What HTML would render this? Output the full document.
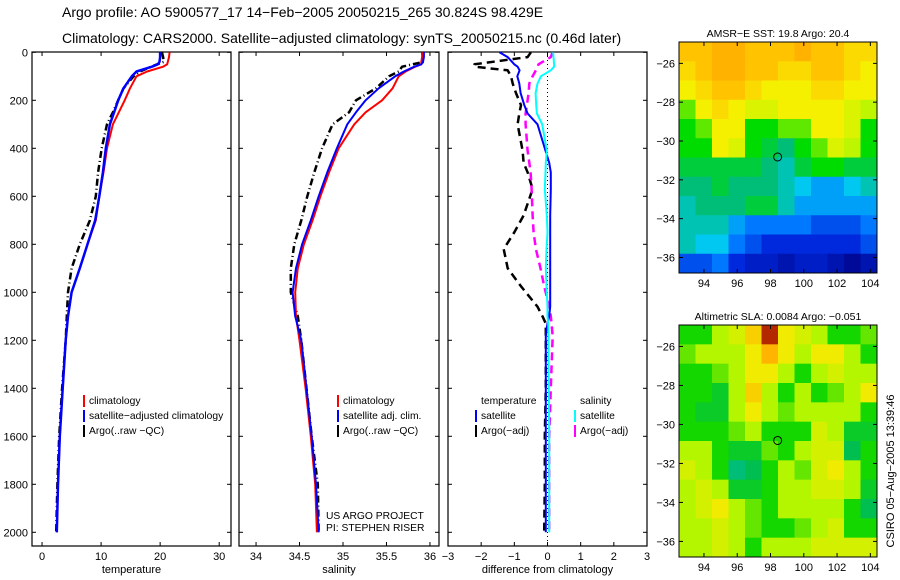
<!DOCTYPE html>
<html><head><meta charset="utf-8"><style>
body{margin:0;background:#fff;}
svg{display:block;font-family:"Liberation Sans",sans-serif;}
</style></head><body>
<svg id="c" width="900" height="580" viewBox="0 0 900 580" xmlns="http://www.w3.org/2000/svg">
<text x="62" y="17" font-size="14">Argo profile: AO 5900577_17 14−Feb−2005 20050215_265 30.824S 98.429E</text>
<text x="62" y="43" font-size="14">Climatology: CARS2000. Satellite−adjusted climatology: synTS_20050215.nc (0.46d later)</text>
</svg>
<script>
// ---- profile data ----
const depths=[0,20,40,50,60,80,100,150,200,250,300,400,500,600,700,800,900,1000,1100,1200,1400,1600,1800,2000];
const tempClim=[21.6,21.5,21.3,21.2,20.5,17.8,16,14.9,14,13,12,11,10.4,9.7,9.1,7.7,6.4,5.0,4.4,4.0,3.5,3.0,2.7,2.5];
const tempSat=[20.0,20.0,19.9,19.6,18.6,16,15.2,13.8,12.9,12.2,11.5,10.8,10.3,9.7,9.0,7.7,6.4,5.0,4.4,4.0,3.5,3.0,2.7,2.5];
const tempArgo=[20.3,20.5,20.6,19.5,18.5,16.6,15.5,13.8,12.9,12,11,10.1,9.5,9.1,8.1,6.4,5.0,4.4,4.2,4.0,3.4,2.9,2.6,2.4];
const salClim=[35.91,35.91,35.9,35.9,35.83,35.72,35.64,35.57,35.45,35.26,35.13,34.95,34.84,34.74,34.65,34.55,34.48,34.45,34.46,34.5,34.57,34.63,34.68,34.70];
const salSat=[35.93,35.93,35.92,35.9,35.82,35.70,35.6,35.41,35.26,35.15,35.05,34.93,34.82,34.72,34.63,34.53,34.46,34.42,34.45,34.52,34.58,34.64,34.69,34.72];
const salArgo=[35.91,35.92,35.93,35.8,35.68,35.64,35.53,35.38,35.15,35.07,34.88,34.76,34.67,34.59,34.52,34.44,34.40,34.40,34.48,34.52,34.58,34.64,34.71,34.72];
const diffDepths=[0,20,50,60,75,100,130,170,220,255,300,410,460,500,570,680,750,820,900,975,1060,1100,1130,1175,1200,1400,1600,1800,2000];
const dTempSat=[-1.45,-1.2,-1.0,-0.9,-0.84,-0.91,-0.85,-0.81,-0.7,-0.6,-0.3,-0.06,0.05,0.1,0.1,0.08,0.08,0.08,0.08,0.08,0.08,0.05,0,-0.05,-0.05,-0.05,-0.05,-0.05,-0.05];
const dSalSat=[0.17,0.18,0.2,0.2,0.1,-0.2,-0.3,-0.36,-0.34,-0.32,-0.16,-0.02,-0.05,-0.06,-0.08,-0.02,0,-0.03,-0.05,-0.03,0,0,0.02,0.03,0.03,0.04,0.05,0.05,0.05];
const dTempArgo=[-0.5,-0.6,-2.2,-2.2,-1.2,-1.1,-1.05,-0.95,-0.8,-0.85,-0.9,-0.75,-0.72,-0.6,-0.45,-0.72,-1.0,-1.32,-1.2,-0.8,-0.3,-0.15,-0.05,-0.05,-0.05,-0.05,-0.08,-0.08,-0.1];
const dSalArgo=[0.15,0.1,-0.27,-0.3,-0.35,-0.45,-0.55,-0.57,-0.62,-0.66,-0.66,-0.6,-0.55,-0.51,-0.48,-0.45,-0.42,-0.35,-0.21,-0.1,0.05,0.1,0.12,0.15,0.15,0.1,0.05,0.05,0.05];
const tempTicks=[0,10,20,30];
const salTicks=[34,34.5,35,35.5,36];
const diffTicks=[-3,-2,-1,0,1,2,3];
const depthTicks=[0,200,400,600,800,1000,1200,1400,1600,1800,2000];
// ---- map data ----
const lonTicks=[94,96,98,100,102,104];
const latTicks=[-26,-28,-30,-32,-34,-36];
const argoPos=[98.429,-30.824];
const sstGrid=[
[9,9,9.5,9.5,9,9,9,9.5,9,9,8.5,8.5],
[8.5,9,9.5,9.5,9,9,8.5,8.5,9,9,8.5,8],
[8,8.5,9,9,8.5,8,8,8,8.5,8.5,8,8],
[6.5,8,8.5,8,7.5,7.5,8,8,8,8,7.5,7],
[6,6.5,8,8,6,6,6.5,6.5,8,8,7.5,6],
[6,6,8,7.5,6,5.5,5,6,6.5,7.5,7,6],
[5.5,5.5,5.5,5.5,5.5,5,4.5,5.5,6,6,5.5,5.5],
[5,5,5.5,5,5,5,4.5,4,3.5,3.5,4,4.5],
[4.5,5,5,5,5.5,5.5,4.5,3.5,3.5,3.5,3.5,3.5],
[4.5,4.5,4.5,3.5,3,3,3,3,2.5,2.5,2.5,3],
[4.5,4,4,3,2.5,2,2,2,2,2,2,2.5],
[2.5,2.5,3,2,1.5,1.5,1,1.5,1.5,1,0.5,1]];
const slaGrid=[
[5,5,6,6.5,7.5,9,7,6.5,6,5,5,5.5],
[5.5,6,6,6,7,8,7,6,7,7,6,5],
[5,5,5.5,6,7,7,6,5,6,6.5,6,6],
[5,5,4.5,6,7.5,6,5,6,5,5.5,6,7],
[5,4.5,4.5,6,7,6,5.5,6,6,6,6,5],
[5,5,5,5.5,6,5,5,5,6.5,6,4.5,4.5],
[6,6,5,4.5,4.5,5.5,5,6,6.5,6.5,4,5],
[6.5,6,5,3.5,4,5,6,5.5,6.5,7,6,5],
[6,6.5,6,4.5,4.5,5,6,6,6.5,6.5,6,4.5],
[6,6.5,7,6,5.5,5,6,6,6,6,5,4],
[6,6,6.5,6,5.5,5,5,5.5,6,6.5,5,5],
[6,6,6.5,6,5,6,6,6,6.5,6.5,6.5,6.5]];

const svg=document.getElementById('c');
const NS='http://www.w3.org/2000/svg';
function mk(tag,attrs,parent){const e=document.createElementNS(NS,tag);for(const k in attrs)e.setAttribute(k,attrs[k]);(parent||svg).appendChild(e);return e;}
const yTop=52.3,yScale=0.24,frameTop=52,frameBot=546;
const yD=d=>yTop+d*yScale;
const panels=[
 {x0:32,x1:231,lo:-1.7,hi:32,ticks:tempTicks,label:'temperature',name:'temperature-panel'},
 {x0:239,x1:439,lo:33.804,hi:36.104,ticks:salTicks,label:'salinity',name:'salinity-panel'},
 {x0:448,x1:647,lo:-3,hi:3,ticks:diffTicks,label:'difference from climatology',name:'difference-panel'}];
panels.forEach(p=>{p.xf=v=>p.x0+(v-p.lo)/(p.hi-p.lo)*(p.x1-p.x0);});
panels.forEach((p,i)=>{
 const g=mk('g',{});
 
 
 const r=mk('rect',{x:p.x0,y:frameTop,width:p.x1-p.x0,height:frameBot-frameTop,fill:'none',stroke:'#000','stroke-width':1.2},g);
 
 
 p.ticks.forEach(t=>{const x=p.xf(t);
  mk('line',{x1:x,x2:x,y1:frameBot,y2:frameBot-4,stroke:'#000'},g);
  mk('line',{x1:x,x2:x,y1:frameTop,y2:frameTop+4,stroke:'#000'},g);
  const tx=mk('text',{x:x,y:frameBot+14,'font-size':11,'text-anchor':'middle'},g);
  tx.textContent=String(t).replace('-','−');
  
  });
 depthTicks.forEach(d=>{const y=yD(d);
  mk('line',{x1:p.x0,x2:p.x0+4,y1:y,y2:y,stroke:'#000'},g);
  mk('line',{x1:p.x1,x2:p.x1-4,y1:y,y2:y,stroke:'#000'},g);
  if(i===0){const tx=mk('text',{x:p.x0-4,y:y+4,'font-size':11,'text-anchor':'end'},g);tx.textContent=d;
   
   }});
 const xl=mk('text',{x:(p.x0+p.x1)/2,y:frameBot+27,'font-size':11,'text-anchor':'middle'},g);
 xl.textContent=p.label;
 
 
});
function line(p,vals,ds,color,w,dash,name){
 const pts=vals.map((v,k)=>p.xf(v).toFixed(1)+','+yD(ds[k]).toFixed(1)).join(' ');
 const e=mk('polyline',{points:pts,fill:'none',stroke:color,'stroke-width':w,'stroke-dasharray':dash||'none','stroke-linejoin':'round'});
 
 
}
const z=mk('line',{x1:panels[2].xf(0),x2:panels[2].xf(0),y1:frameTop,y2:frameBot,stroke:'#000','stroke-dasharray':'1,3'});


line(panels[0],tempArgo,depths,'#000',2.5,'7,3,1,3','temp-argo-line');
line(panels[0],tempClim,depths,'#f00',2,'','temp-climatology-line');
line(panels[0],tempSat,depths,'#00f',2.5,'','temp-satellite-line');
line(panels[1],salArgo,depths,'#000',2.5,'7,3,1,3','sal-argo-line');
line(panels[1],salClim,depths,'#f00',2,'','sal-climatology-line');
line(panels[1],salSat,depths,'#00f',2,'','sal-satellite-line');
line(panels[2],dTempArgo,diffDepths,'#000',2.5,'8,5','diff-temp-argo-line');
line(panels[2],dSalArgo,diffDepths,'#f0f',2.5,'8,5','diff-sal-argo-line');
line(panels[2],dTempSat,diffDepths,'#00f',2,'','diff-temp-satellite-line');
line(panels[2],dSalSat,diffDepths,'#0ff',2,'','diff-sal-satellite-line');
function legend(x,y,color,label,name){
 const g=mk('g',{});
 
 
 if(color)mk('line',{x1:x,x2:x,y1:y-9,y2:y+3,stroke:color,'stroke-width':2},g);
 const t=mk('text',{x:x+5,y:y,'font-size':10.3},g);t.textContent=label;
}
legend(84,404,'#f00','climatology','legend-entry-climatology');
legend(84,419,'#00f','satellite−adjusted climatology','legend-entry-satellite');
legend(84,434,'#000','Argo(..raw −QC)','legend-entry-argo');
legend(338,404,'#f00','climatology','legend-entry-climatology');
legend(338,419,'#00f','satellite adj. clim.','legend-entry-satellite');
legend(338,434,'#000','Argo(..raw −QC)','legend-entry-argo');
legend(476,404,null,'temperature','legend-title-temperature');
legend(476,419,'#00f','satellite','legend-entry-temp-satellite');
legend(476,434,'#000','Argo(−adj)','legend-entry-temp-argo');
legend(575,404,null,'salinity','legend-title-salinity');
legend(575,419,'#0ff','satellite','legend-entry-sal-satellite');
legend(575,434,'#f0f','Argo(−adj)','legend-entry-sal-argo');
const c1=mk('text',{x:326,y:519,'font-size':10.3});c1.textContent='US ARGO PROJECT';


const c2=mk('text',{x:326,y:531,'font-size':10.3});c2.textContent='PI: STEPHEN RISER';



// ---- maps ----
const sstStops=[[0,[0,0,130]],[2,[0,40,220]],[3,[0,120,255]],[4,[0,200,240]],[5,[0,190,120]],[6,[0,220,0]],[7,[190,245,0]],[8,[245,240,0]],[9,[255,195,0]],[10,[255,160,0]]];
const slaStops=[[3,[0,190,160]],[4,[0,190,80]],[5,[20,215,0]],[6,[180,245,0]],[7,[240,235,0]],[8,[255,180,0]],[9,[180,40,0]]];
function col(v,stops){
 if(v<=stops[0][0])return 'rgb('+stops[0][1]+')';
 for(let i=1;i<stops.length;i++){if(v<=stops[i][0]){const a=stops[i-1],b=stops[i],t=(v-a[0])/(b[0]-a[0]);
  return 'rgb('+a[1].map((c,k)=>Math.round(c+(b[1][k]-c)*t)).join(',')+')';}}
 return 'rgb('+stops[stops.length-1][1]+')';
}
const lonLo=92.5,lonHi=104.4,latTop=-24.9,latBot=-36.8;
function drawMap(m){
 const lx=v=>m.x0+(v-lonLo)/(lonHi-lonLo)*(m.x1-m.x0);
 const ly=v=>m.y0+(latTop-v)/(latTop-latBot)*(m.y1-m.y0);
 const g=mk('g',{});
 
 
 const rows=m.grid.length,cols=m.grid[0].length;
 const cw=(lonHi-lonLo)/cols,ch=(latTop-latBot)/rows;
 m.grid.forEach((row,r)=>row.forEach((v,c)=>{
  const xa=lx(lonLo+c*cw),xb=lx(lonLo+(c+1)*cw),ya=ly(latTop-r*ch),yb=ly(latTop-(r+1)*ch);
  const e=mk('rect',{x:xa,y:ya,width:xb-xa+0.5,height:yb-ya+0.5,fill:col(v,m.stops)},g);
  
  }));
 mk('rect',{x:m.x0,y:m.y0,width:m.x1-m.x0,height:m.y1-m.y0,fill:'none',stroke:'#000'},g);
 lonTicks.forEach(t=>{const x=lx(t);
  mk('line',{x1:x,x2:x,y1:m.y0,y2:m.y0+4,stroke:'#000'},g);
  mk('line',{x1:x,x2:x,y1:m.y1,y2:m.y1-4,stroke:'#000'},g);
  const tx=mk('text',{x:x,y:m.y1+14,'font-size':11,'text-anchor':'middle'},g);tx.textContent=t;
  
  });
 latTicks.forEach(t=>{const y=ly(t);
  mk('line',{x1:m.x0,x2:m.x0+4,y1:y,y2:y,stroke:'#000'},g);
  mk('line',{x1:m.x1,x2:m.x1-4,y1:y,y2:y,stroke:'#000'},g);
  const tx=mk('text',{x:m.x0-4,y:y+4,'font-size':11,'text-anchor':'end'},g);tx.textContent=String(t).replace('-','−');
  
  });
 const ci=mk('circle',{cx:lx(argoPos[0]),cy:ly(argoPos[1]),r:4,fill:'none',stroke:'#000','stroke-width':1},g);
 
 
 const tt=mk('text',{x:(m.x0+m.x1)/2,y:m.y0-5,'font-size':10.5,'text-anchor':'middle'},g);tt.textContent=m.title;
 
 
}
drawMap({x0:679,x1:877,y0:42,y1:273,grid:sstGrid,stops:sstStops,title:'AMSR−E SST: 19.8 Argo: 20.4',name:'sst-map'});
drawMap({x0:679,x1:877,y0:325,y1:557,grid:slaGrid,stops:slaStops,title:'Altimetric SLA: 0.0084 Argo: −0.051',name:'sla-map'});
const st=mk('text',{x:0,y:0,'font-size':11,'text-anchor':'middle',transform:'translate(894,471) rotate(-90)'});
st.textContent='CSIRO 05−Aug−2005 13:39:46';


</script>
</body></html>
